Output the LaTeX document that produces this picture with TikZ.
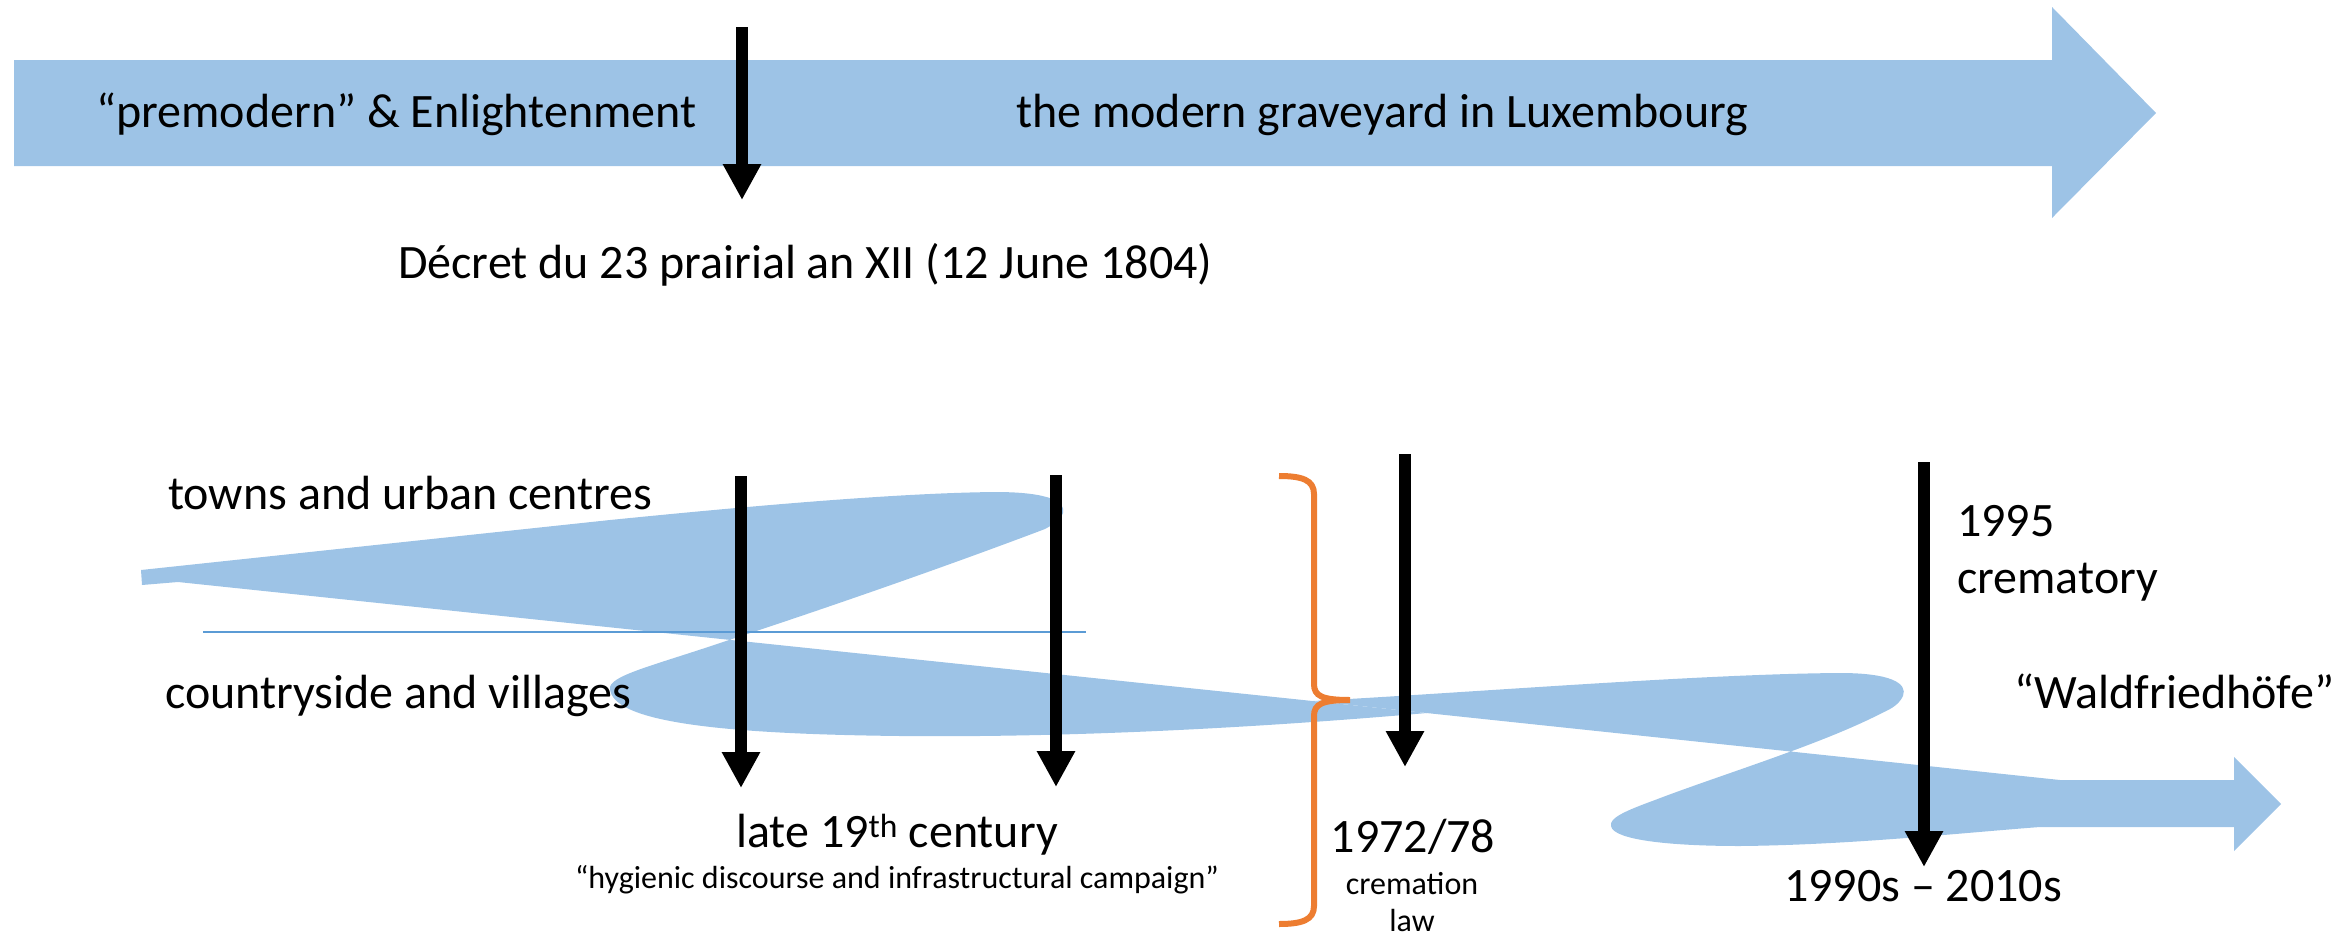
\documentclass[tikz,border=0pt]{standalone}
\usepackage{fontspec}
\setmainfont{Carlito}
\usetikzlibrary{arrows.meta}

\definecolor{ribbonblue}{RGB}{157,195,230}
\definecolor{lineblue}{RGB}{91,155,213}
\definecolor{braceorange}{RGB}{237,125,49}

\begin{document}
\begin{tikzpicture}[x=1pt, y=-1pt]
  \tikzstyle{ribbon} = [fill=ribbonblue]
  \tikzstyle{marker} = [line width=12pt, -{Triangle[width=36pt, length=36pt]}]
  \tikzstyle{big} = [inner sep=0pt, font=\fontsize{48}{57}\selectfont]
  \tikzstyle{small} = [inner sep=0pt, font=\fontsize{32}{38}\selectfont]

  \useasboundingbox (0,0) rectangle (2338,935);

  \def\D{742}
  \def\A{741}
  \def\B{1056}
  \def\C{1405}
  \def\E{1924}

  % top band
  \fill[ribbon] (14,60) -- (2052,60) -- (2052,7) -- (2156,113)
    -- (2052,218) -- (2052,166) -- (14,166) -- cycle;

  % first ribbon (towns / countryside)
  \fill[ribbon] (141,570) -- (610,520)
    .. controls (760,505) and (900,493) .. (995,492)
    .. controls (1050,492) and (1066,502) .. (1063,513)
    .. controls (1061,520) and (1054,524) .. (1045,529)
    .. controls (950,565) and (830,607) .. (720,643)
    .. controls (652,666) and (608,676) .. (610,689)
    .. controls (613,722) and (720,734) .. (900,736)
    .. controls (1100,738) and (1300,724) .. (1427,713)
    -- (178,582) -- (142,585) -- cycle;

  % second ribbon
  \fill[ribbon] (1313,701)
    .. controls (1480,692) and (1700,674) .. (1840,673)
    .. controls (1890,673) and (1908,683) .. (1903,696)
    .. controls (1899,704) and (1893,708) .. (1882,713)
    .. controls (1820,745) and (1720,775) .. (1655,800)
    .. controls (1625,811) and (1609,818) .. (1611,826)
    .. controls (1613,840) and (1670,846) .. (1740,846)
    .. controls (1850,845) and (1960,833) .. (2040,827)
    -- (2234,827) -- (2234,851) -- (2281,804) -- (2234,757)
    -- (2234,780) -- (2060,780) -- cycle;

  % divider
  \draw[lineblue, line width=1.5pt] (203,632) -- (1086,632);

  % brace
  \draw[braceorange, line width=6pt]
    (1279,476) .. controls (1302,476) and (1314,480) .. (1314,494)
    -- (1314,684) .. controls (1314,696) and (1322,700) .. (1350,700)
    .. controls (1322,700) and (1314,704) .. (1314,716)
    -- (1314,906) .. controls (1314,920) and (1302,924) .. (1279,924);

  % arrow ends
  \coordinate (d top) at (\D,27);
  \coordinate (d tip) at (\D,200);
  \coordinate (a top) at (\A,476);
  \coordinate (a tip) at (\A,788);
  \coordinate (b top) at (\B,475);
  \coordinate (b tip) at (\B,787);
  \coordinate (c top) at (\C,454);
  \coordinate (c tip) at (\C,767);
  \coordinate (e top) at (\E,462);
  \coordinate (e tip) at (\E,867);

  % arrows
  \draw[marker] (d top) -- (d tip);
  \draw[marker] (a top) -- (a tip);
  \draw[marker] (b top) -- (b tip);
  \draw[marker] (c top) -- (c tip);
  \draw[marker] (e top) -- (e tip);

  % top labels
  \node[big, anchor=base west] (pre) at (96,127) {“premodern” \& Enlightenment};
  \node[big, anchor=base west] (modern) at (1016,127) {the modern graveyard in Luxembourg};
  \node[big, anchor=base west] (decree) at (398,278) {Décret du 23 prairial an XII (12 June 1804)};

  % lower labels
  \node[big, anchor=base west] (towns) at (168,509) {towns and urban centres};
  \node[big, anchor=base west] (country) at (165,708) {countryside and villages};
  \node[big, anchor=base] (late) at (897,847) {late 19\textsuperscript{th} century};
  \node[small, anchor=base] (hyg) at (897,888) {“hygienic discourse and infrastructural campaign”};
  \node[big, anchor=base] (law year) at (1413,852) {1972/78};
  \node[small, anchor=base] (law a) at (1412,894) {cremation};
  \node[small, anchor=base] (law b) at (1412,931) {law};
  \node[big, anchor=base west] (crem year) at (1957,536) {1995};
  \node[big, anchor=base west] (crem) at (1957,593) {crematory};
  \node[big, anchor=base west] (wald) at (2014,708) {“Waldfriedhöfe”};
  \node[big, anchor=base] (recent) at (1923,901) {1990s – 2010s};

\end{tikzpicture}
\end{document}
